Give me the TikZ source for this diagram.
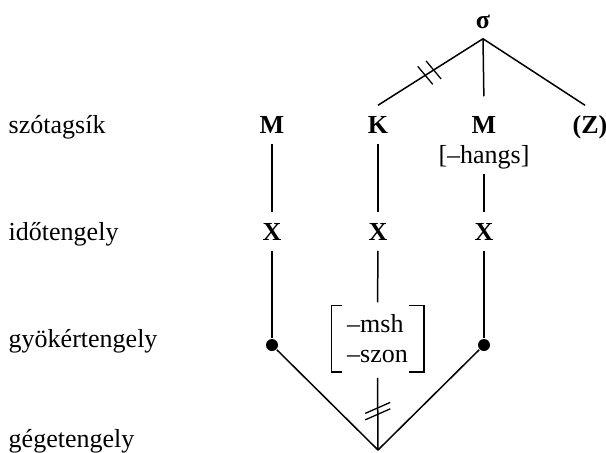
\documentclass[tikz,border=0pt]{standalone}
\usepackage{fontspec}
\setmainfont{Liberation Serif}
\begin{document}
\begin{tikzpicture}[x=1pt,y=-1pt,
  line width=1.5pt,
  every node/.style={font=\fontsize{26}{30}\selectfont},
  lv/.style={inner xsep=0pt, inner ysep=10pt, text height=17pt, text depth=0pt, anchor=base},
  lvb/.style={lv, font=\fontsize{26}{30}\selectfont\bfseries},
  lab/.style={inner sep=0pt, anchor=base west},
  dot/.style={circle, fill=black, inner sep=0pt, minimum size=12pt},
  strike/.style={line width=1.3pt}]
\useasboundingbox (0,0) rectangle (606,453);
% tier labels
\node[lab] (l1) at (8,133) {szótagsík};
\node[lab] (l2) at (8,240) {időtengely};
\node[lab] (l3) at (8,347) {gyökértengely};
\node[lab] (l4) at (8,447) {gégetengely};
% syllable tier
\node[lvb] (s) at (483,28) {σ};
\node[lvb] (m1) at (272,133) {M};
\node[lvb] (k) at (378,133) {K};
\node[lvb] (m3) at (484,133) {M};
\node[lvb] (z) at (590,133) {(Z)};
\node[lv] (h) at (484,163) {[–hangs]};
% timing tier
\node[lvb] (x1) at (272,240) {X};
\node[lvb] (x2) at (378,240) {X};
\node[lvb] (x3) at (484,240) {X};
% root tier
\node[dot] (d1) at (272,345) {};
\node[dot] (d3) at (484,345) {};
\node[inner sep=0pt, minimum width=91pt, minimum height=65pt, align=left] (feat) at (377.5,338.5) {–msh\\–szon};
\draw ([xshift=11pt]feat.north west) -- (feat.north west) -- (feat.south west) -- ([xshift=11pt]feat.south west);
\draw ([xshift=-15pt]feat.north east) -- (feat.north east) -- (feat.south east) -- ([xshift=-15pt]feat.south east);
% laryngeal tier
\coordinate (g) at (378,450);
% connectors
\draw (s.south) -- (k.north);
\draw[shorten >=9pt] (s.south) -- (m3.north);
\draw (s.south) -- ([xshift=-5pt]z.north);
\draw (m1.south) -- (x1.north);
\draw (k.south) -- (x2.north);
\draw (h.south) -- (x3.north);
\draw (x1.south) -- (d1);
\draw (x3.south) -- (d3);
\draw[shorten >=3pt] (x2.south) -- (feat.north);
\draw[shorten <=6pt] (feat.south) -- (g);
\draw (d1) -- (g);
\draw (d3) -- (g);
% delinking marks
\path (s.south) -- (k.north) coordinate[pos=0.47] (p1) coordinate[pos=0.55] (p2);
\draw[strike] ([shift={(-7.5,-9)}]p1) -- ([shift={(7.5,9)}]p1);
\draw[strike] ([shift={(-7.5,-9)}]p2) -- ([shift={(7.5,9)}]p2);
\path (feat.south) -- (g) coordinate[pos=0.462] (q1) coordinate[pos=0.544] (q2);
\draw[strike] ([shift={(-12.5,5.5)}]q1) -- ([shift={(12.5,-5.5)}]q1);
\draw[strike] ([shift={(-12.5,5.5)}]q2) -- ([shift={(12.5,-5.5)}]q2);
\end{tikzpicture}
\end{document}
